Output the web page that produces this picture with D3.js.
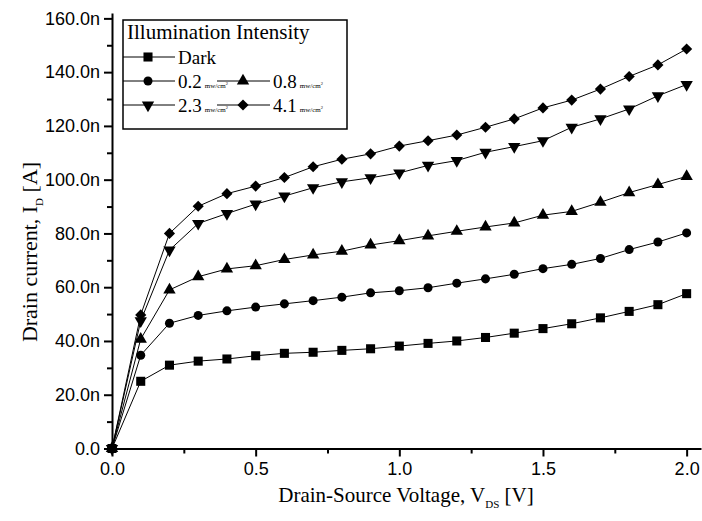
<!DOCTYPE html>
<html lang="en">
<head>
<meta charset="UTF-8">
<title>Drain current vs VDS</title>
<script src="https://d3js.org/d3.v7.min.js"></script>
<style>
  body { margin: 0; background: #fff; }
  svg { display: block; }
</style>
</head>
<body>
<div class="box"></div>
<script>
// data (currents in nA)
const vds = [0, 0.1, 0.2, 0.3, 0.4, 0.5, 0.6, 0.7, 0.8, 0.9, 1.0, 1.1, 1.2, 1.3, 1.4, 1.5, 1.6, 1.7, 1.8, 1.9, 2.0]
const dark = [0, 25, 31, 32.5, 33.3, 34.5, 35.4, 35.8, 36.5, 37.1, 38.1, 39.1, 40, 41.3, 42.9, 44.6, 46.4, 48.6, 51, 53.5, 57.6]
const p02 = [0, 34.7, 46.6, 49.5, 51.2, 52.6, 53.8, 55, 56.3, 57.9, 58.7, 59.8, 61.5, 63.1, 64.8, 66.9, 68.5, 70.7, 74, 76.8, 80.2]
const p08 = [0, 40.7, 59, 63.9, 66.8, 68, 70.3, 72, 73.4, 75.7, 77.3, 79.1, 80.8, 82.4, 83.9, 86.8, 88.2, 91.6, 95.2, 98.2, 101.2]
const p23 = [0, 47.5, 73.8, 83.7, 87.4, 90.9, 93.9, 97, 99.2, 100.7, 102.5, 105.3, 107.1, 110.2, 112.3, 114.5, 119.5, 122.6, 126.3, 131.2, 135.4]
const p41 = [0, 49.7, 80, 90.1, 94.8, 97.6, 100.8, 104.8, 107.6, 109.6, 112.5, 114.5, 116.6, 119.5, 122.6, 126.7, 129.6, 133.7, 138.4, 142.7, 148.6]

const seriesLabels = ['Dark', '0.2', '0.8', '2.3', '4.1']
const xTicks = [0, 0.5, 1.0, 1.5, 2.0]
const xMinor = [0.25, 0.75, 1.25, 1.75]
const yTicks = [0, 20, 40, 60, 80, 100, 120, 140, 160]
const yMinor = [10, 30, 50, 70, 90, 110, 130, 150]

const width = 702
const height = 521
const margin = { top: 13, right: 1, bottom: 72.5, left: 112 }

const svg = d3.select('.box').append('svg').attr('width', width).attr('height', height)

const x = d3.scaleLinear().domain([0, 2.05]).range([margin.left, width - margin.right])
const y = d3.scaleLinear().domain([0, 162]).range([height - margin.bottom, margin.top])

const sans = 'Liberation Sans, Arial, sans-serif'
const serif = 'Liberation Serif, Times New Roman, serif'

// minor ticks
svg.append('g')
  .attr('transform', `translate(0,${y(0)})`)
  .call(d3.axisBottom(x).tickValues(xMinor).tickSize(5).tickSizeOuter(0).tickFormat(''))
  .call(g => g.select('.domain').remove())
svg.append('g')
  .attr('transform', `translate(${x(0)},0)`)
  .call(d3.axisLeft(y).tickValues(yMinor).tickSize(5).tickSizeOuter(0).tickFormat(''))
  .call(g => g.select('.domain').remove())

// major axes
let xAxis = svg.append('g')
  .attr('transform', `translate(0,${y(0)})`)
  .call(d3.axisBottom(x).tickValues(xTicks).tickSize(8).tickSizeOuter(0).tickPadding(6).tickFormat(d3.format('.1f')))
let yAxis = svg.append('g')
  .attr('transform', `translate(${x(0)},0)`)
  .call(d3.axisLeft(y).tickValues(yTicks).tickSize(8).tickSizeOuter(0).tickPadding(4)
    .tickFormat(d => d === 0 ? '0.0' : d3.format('.1f')(d) + 'n'))

svg.selectAll('.tick line').attr('stroke', '#000').attr('stroke-width', 2)
svg.selectAll('.domain').attr('stroke', '#000').attr('stroke-width', 2)
svg.selectAll('.tick text').attr('font-family', sans).attr('font-size', 18).attr('fill', '#000')

// symbols
const shapes = [
  { type: d3.symbolSquare, size: 82, rot: 0 },
  { type: d3.symbolCircle, size: 64, rot: 0 },
  { type: d3.symbolTriangle, size: 66, rot: 0 },
  { type: d3.symbolTriangle, size: 66, rot: 180 },
  { type: d3.symbolSquare, size: 62, rot: 45 }
]
const allSeries = [dark, p02, p08, p23, p41]

const line = d3.line().x((d, i) => x(vds[i])).y(d => y(d))

allSeries.forEach((vals, k) => {
  svg.append('path')
    .attr('d', line(vals))
    .attr('fill', 'none')
    .attr('stroke', '#000')
    .attr('stroke-width', 1)
  svg.append('g').selectAll('path').data(vals).enter().append('path')
    .attr('d', d3.symbol().type(shapes[k].type).size(shapes[k].size))
    .attr('transform', (d, i) => `translate(${x(vds[i])},${y(d)}) rotate(${shapes[k].rot})`)
    .attr('fill', '#000')
})

// legend
const lg = svg.append('g').attr('transform', 'translate(123,20)')
lg.append('rect')
  .attr('width', 224).attr('height', 109)
  .attr('fill', '#fff').attr('stroke', '#000').attr('stroke-width', 1.5)
lg.append('text')
  .attr('x', 4).attr('y', 19)
  .attr('font-family', serif).attr('font-size', 21)
  .text('Illumination Intensity')

const legendPos = [
  { row: 0, col: 0 }, { row: 1, col: 0 }, { row: 1, col: 1 }, { row: 2, col: 0 }, { row: 2, col: 1 }
]
seriesLabels.forEach((lab, k) => {
  let p = legendPos[k]
  let gx = p.col * 95
  let gy = 37 + p.row * 24
  let item = lg.append('g').attr('transform', `translate(${gx},${gy})`)
  item.append('line').attr('x1', p.col ? -1 : 0).attr('x2', 52).attr('stroke', '#000').attr('stroke-width', 1)
  item.append('path')
    .attr('d', d3.symbol().type(shapes[k].type).size(shapes[k].size))
    .attr('transform', `translate(25,0) rotate(${shapes[k].rot})`)
  let t = item.append('text')
    .attr('x', 55).attr('y', 7)
    .attr('font-family', serif).attr('font-size', 19)
    .text(lab)
  if (k > 0) {
    t.append('tspan').attr('font-size', 7).attr('dx', 3).text('mw/cm')
    t.append('tspan').attr('font-size', 4.5).attr('dy', -3).text('2')
  }
})

// axis titles
const xl = svg.append('text')
  .attr('x', 406).attr('y', 502)
  .attr('text-anchor', 'middle')
  .attr('font-family', serif).attr('font-size', 21)
xl.append('tspan').text('Drain-Source Voltage, V')
xl.append('tspan').attr('font-size', 11).attr('dy', 6).text('DS')
xl.append('tspan').attr('dy', -6).text(' [V]')

const yl = svg.append('text')
  .attr('transform', 'translate(37,252) rotate(-90)')
  .attr('text-anchor', 'middle')
  .attr('font-family', serif).attr('font-size', 22)
yl.append('tspan').text('Drain current, I')
yl.append('tspan').attr('font-size', 11).attr('dy', 6).text('D')
yl.append('tspan').attr('dy', -6).text(' [A]')
</script>
</body>
</html>
